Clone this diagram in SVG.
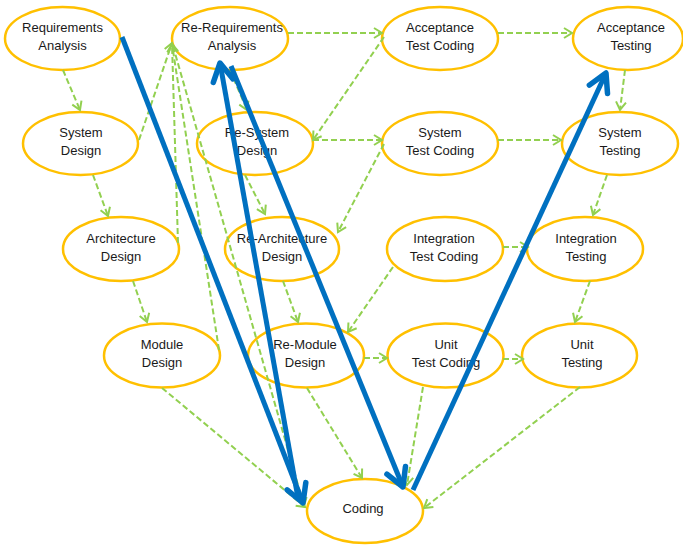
<svg xmlns="http://www.w3.org/2000/svg" width="683" height="545" viewBox="0 0 683 545">
<style>
.node ellipse{fill:#fff;stroke:#FFC000;stroke-width:2.5}
.node text{font-family:"Liberation Sans",Arial,sans-serif;font-size:13px;fill:#1a1a1a;text-anchor:middle}
.g{stroke:#92D050;stroke-width:2;stroke-dasharray:6 3;fill:none;marker-end:url(#ga)}
.b{stroke:#0070C0;stroke-width:5;fill:none;marker-end:url(#ba)}
</style>
<defs>
<marker id="ga" viewBox="-10 -7 12 14" refX="0" refY="0" markerWidth="12" markerHeight="14" markerUnits="userSpaceOnUse" orient="auto" overflow="visible">
<path d="M-8,-5 L0,0 L-8,5" fill="none" stroke="#92D050" stroke-width="2"/>
</marker>
<marker id="ba" viewBox="-22 -14 26 28" refX="0" refY="0" markerWidth="26" markerHeight="28" markerUnits="userSpaceOnUse" orient="auto" overflow="visible">
<path d="M-18,-10 L0,0 L-18,10" fill="none" stroke="#0070C0" stroke-width="5.5" stroke-linecap="round" stroke-linejoin="round"/>
</marker>
</defs>
<rect width="683" height="545" fill="#fff"/>
<g id="req" class="node"><ellipse cx="62.5" cy="38.5" rx="57.5" ry="31.5"/><text><tspan x="62.5" y="31.5">Requirements</tspan><tspan x="62.5" y="49.5">Analysis</tspan></text></g>
<g id="rereq" class="node"><ellipse cx="230" cy="38.5" rx="58" ry="31.5"/><text><tspan x="232" y="31.5">Re-Requirements</tspan><tspan x="232" y="49.5">Analysis</tspan></text></g>
<g id="atc" class="node"><ellipse cx="440" cy="38.5" rx="58" ry="31.5"/><text><tspan x="440" y="31.5">Acceptance</tspan><tspan x="440" y="49.5">Test Coding</tspan></text></g>
<g id="at" class="node"><ellipse cx="628" cy="38.5" rx="55" ry="31.5"/><text><tspan x="631" y="31.5">Acceptance</tspan><tspan x="631" y="49.5">Testing</tspan></text></g>
<g id="sd" class="node"><ellipse cx="80.5" cy="143.5" rx="57.5" ry="31.5"/><text><tspan x="81" y="137">System</tspan><tspan x="81" y="155">Design</tspan></text></g>
<g id="resd" class="node"><ellipse cx="255" cy="143.5" rx="58" ry="31.5"/><text><tspan x="257" y="137">Re-System</tspan><tspan x="257" y="155">Design</tspan></text></g>
<g id="stc" class="node"><ellipse cx="440" cy="143.5" rx="58" ry="31.5"/><text><tspan x="440" y="137">System</tspan><tspan x="440" y="155">Test Coding</tspan></text></g>
<g id="st" class="node"><ellipse cx="620" cy="143.5" rx="58" ry="31.5"/><text><tspan x="620" y="137">System</tspan><tspan x="620" y="155">Testing</tspan></text></g>
<g id="ad" class="node"><ellipse cx="121" cy="249" rx="58" ry="32"/><text><tspan x="121" y="243">Architecture</tspan><tspan x="121" y="261">Design</tspan></text></g>
<g id="read" class="node"><ellipse cx="282" cy="249" rx="57" ry="32"/><text><tspan x="282" y="243">Re-Architecture</tspan><tspan x="282" y="261">Design</tspan></text></g>
<g id="itc" class="node"><ellipse cx="445" cy="249" rx="58" ry="32"/><text><tspan x="444" y="243">Integration</tspan><tspan x="444" y="261">Test Coding</tspan></text></g>
<g id="it" class="node"><ellipse cx="585" cy="249" rx="58" ry="32"/><text><tspan x="586" y="243">Integration</tspan><tspan x="586" y="261">Testing</tspan></text></g>
<g id="md" class="node"><ellipse cx="162" cy="355.5" rx="58" ry="32"/><text><tspan x="162" y="349">Module</tspan><tspan x="162" y="367">Design</tspan></text></g>
<g id="remd" class="node"><ellipse cx="306" cy="355.5" rx="58" ry="32"/><text><tspan x="305" y="349">Re-Module</tspan><tspan x="305" y="367">Design</tspan></text></g>
<g id="utc" class="node"><ellipse cx="445.5" cy="355.5" rx="58" ry="32"/><text><tspan x="446" y="349">Unit</tspan><tspan x="446" y="367">Test Coding</tspan></text></g>
<g id="ut" class="node"><ellipse cx="579.5" cy="355.5" rx="57.5" ry="32"/><text><tspan x="582" y="349">Unit</tspan><tspan x="582" y="367">Testing</tspan></text></g>
<g id="coding" class="node"><ellipse cx="365" cy="511" rx="58" ry="32"/><text x="363" y="513">Coding</text></g>
<g id="connectors">
<line class="g" x1="63" y1="70" x2="80" y2="110"/>
<line class="g" x1="139" y1="140" x2="172" y2="43"/>
<line class="g" x1="93" y1="175" x2="108" y2="216"/>
<line class="g" x1="178" y1="243" x2="172" y2="44"/>
<line class="g" x1="133" y1="281" x2="147" y2="322"/>
<line class="g" x1="219" y1="350" x2="172" y2="44"/>
<line class="g" x1="173" y1="46" x2="304" y2="506"/>
<line class="g" x1="162" y1="388" x2="305" y2="507"/>
<line class="g" x1="288" y1="33" x2="382" y2="33"/>
<line class="g" x1="498" y1="33" x2="572" y2="33"/>
<line class="g" x1="625" y1="70" x2="620" y2="110"/>
<line class="g" x1="230" y1="70" x2="247" y2="110"/>
<line class="g" x1="384" y1="37" x2="313" y2="140"/>
<line class="g" x1="313" y1="140" x2="382" y2="140"/>
<line class="g" x1="498" y1="140" x2="561" y2="140"/>
<line class="g" x1="607" y1="175" x2="593" y2="215"/>
<line class="g" x1="245" y1="175" x2="265" y2="214"/>
<line class="g" x1="384" y1="144" x2="338" y2="232"/>
<line class="g" x1="503" y1="247" x2="528" y2="247"/>
<line class="g" x1="590" y1="281" x2="575" y2="322"/>
<line class="g" x1="393" y1="267" x2="348" y2="332"/>
<line class="g" x1="283" y1="281" x2="298" y2="322"/>
<line class="g" x1="364" y1="358" x2="387" y2="358"/>
<line class="g" x1="503" y1="359" x2="523" y2="359"/>
<line class="g" x1="307" y1="388" x2="362" y2="478"/>
<line class="g" x1="423" y1="387" x2="407" y2="485"/>
<line class="g" x1="580" y1="387" x2="424" y2="508"/>
<line class="b" x1="122" y1="37" x2="303" y2="503"/>
<line class="b" x1="298" y1="498" x2="220" y2="63"/>
<line class="b" x1="231" y1="66" x2="403" y2="487"/>
<line class="b" x1="413" y1="490" x2="606" y2="73"/>
</g>
</svg>
